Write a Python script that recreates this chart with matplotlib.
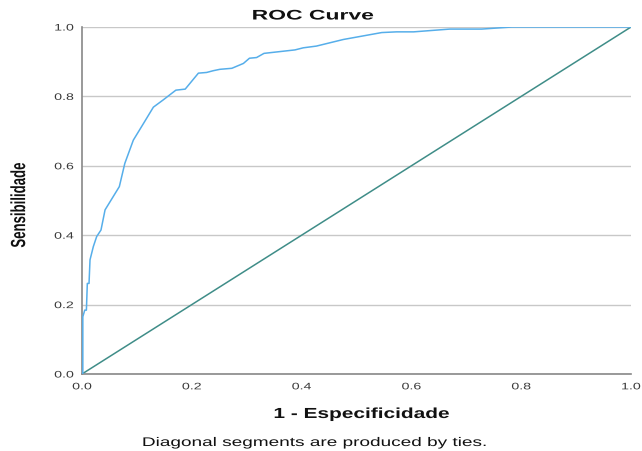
import matplotlib
matplotlib.use("Agg")
import matplotlib.pyplot as plt
from matplotlib.patheffects import AbstractPathEffect
from matplotlib.transforms import Affine2D

fpr = [0.0, 0.0015, 0.0015, 0.005, 0.008, 0.0097, 0.0128, 0.0146, 0.0206, 0.0267, 0.0346,
       0.042, 0.068, 0.078, 0.0935, 0.112, 0.130, 0.148, 0.171, 0.188, 0.212, 0.227,
       0.239, 0.251, 0.273, 0.294, 0.305, 0.318, 0.3315, 0.388, 0.403, 0.427, 0.476,
       0.546, 0.573, 0.604, 0.670, 0.728, 0.783, 1.0]
tpr = [0.0, 0.0, 0.165, 0.184, 0.184, 0.261, 0.261, 0.329, 0.367, 0.396, 0.415,
       0.473, 0.540, 0.607, 0.674, 0.722, 0.769, 0.790, 0.818, 0.821, 0.867, 0.869,
       0.874, 0.878, 0.881, 0.895, 0.910, 0.912, 0.924, 0.934, 0.940, 0.945, 0.964,
       0.984, 0.986, 0.986, 0.994, 0.994, 1.0, 1.0]
diag = [0.0, 1.0]
ticks = [0.0, 0.2, 0.4, 0.6, 0.8, 1.0]
tick_labels = ["0.0", "0.2", "0.4", "0.6", "0.8", "1.0"]


class Stretch(AbstractPathEffect):
    """Draw text glyphs stretched in their local frame about an anchor of their extents."""
    def __init__(self, sx=1.0, sy=1.0, fx=0.5, fy=0.5):
        super().__init__()
        self.sx, self.sy, self.fx, self.fy = sx, sy, fx, fy

    def draw_path(self, renderer, gc, tpath, affine, rgbFace=None):
        ext = tpath.get_extents()
        cx = ext.x0 + self.fx * ext.width
        cy = ext.y0 + self.fy * ext.height
        t = Affine2D().translate(-cx, -cy).scale(self.sx, self.sy).translate(cx, cy)
        renderer.draw_path(gc, tpath, t + affine, rgbFace)


plt.rcParams['font.family'] = ['Liberation Sans', 'DejaVu Sans']

W, H = 642, 451
fig = plt.figure(figsize=(W / 100, H / 100), dpi=100)
ax = fig.add_axes([82 / W, 1 - 374 / H, 549 / W, 347 / H])

ax.plot(diag, diag, color="#3f8d88", lw=1.1, zorder=2)
ax.plot(fpr, tpr, color="#56aeea", lw=1.1, zorder=3)

ax.set_xlim(0, 1)
ax.set_ylim(0, 1)
ax.set_xticks(ticks)
ax.set_xticklabels(tick_labels)
ax.set_yticks(ticks)
ax.set_yticklabels(tick_labels)
ax.tick_params(length=0, labelsize=6.8, colors="#3a3a3a")
ax.tick_params(axis="y", pad=6)
ax.tick_params(axis="x", pad=6)
for lab in ax.get_yticklabels():
    lab.set_path_effects([Stretch(sx=1.5, fx=1.0)])
for lab in ax.get_xticklabels():
    lab.set_path_effects([Stretch(sx=1.5, fx=0.5)])
ax.yaxis.grid(True, color="#c8c8c8", lw=1)
ax.set_axisbelow(True)
for s in ["top", "right"]:
    ax.spines[s].set_visible(False)
for s in ["left", "bottom"]:
    ax.spines[s].set_color("#888888")
    ax.spines[s].set_linewidth(1.2)

fig.text(313 / W, 1 - 19.5 / H, "ROC Curve", ha="center", va="baseline",
         fontsize=10, fontweight="bold", color="#111111",
         path_effects=[Stretch(sx=1.65)])
fig.text(362 / W, 1 - 418 / H, "1 - Especificidade", ha="center", va="baseline",
         fontsize=10.5, fontweight="bold", color="#111111",
         path_effects=[Stretch(sx=1.43)])
fig.text(19.5 / W, 1 - 205 / H, "Sensibilidade", ha="center", va="center",
         rotation=90, fontsize=9.5, fontweight="bold", color="#111111",
         path_effects=[Stretch(sy=1.55)])
fig.text(315 / W, 1 - 446 / H, "Diagonal segments are produced by ties.",
         ha="center", va="baseline", fontsize=9, color="#111111",
         path_effects=[Stretch(sx=1.52)])

fig.savefig("out.png", dpi=100)
